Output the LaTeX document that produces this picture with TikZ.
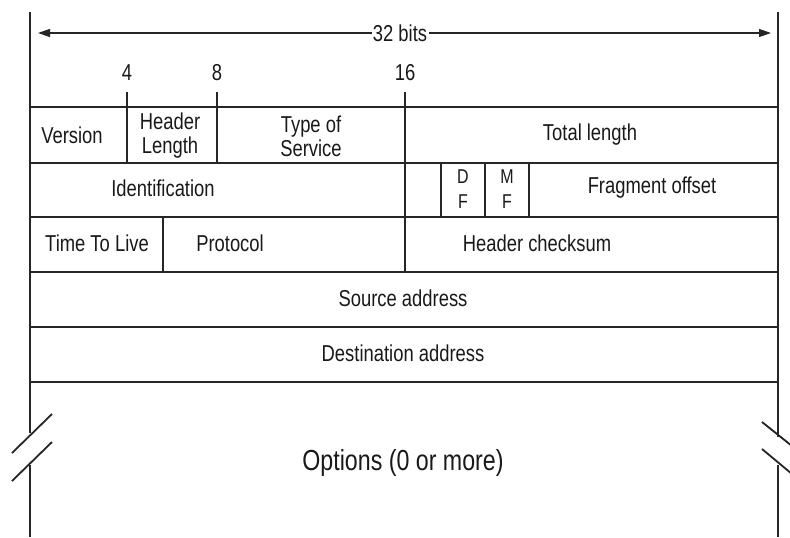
\documentclass[tikz,border=0pt]{standalone}
\usepackage{fontspec}
\setmainfont{Liberation Sans}[FakeStretch=0.8]
\usetikzlibrary{arrows.meta}

\begin{document}
\begin{tikzpicture}[
  x=0.5pt, y=-0.5pt,
  >={Triangle[length=6pt,width=4pt]},
  grid/.style={line width=0.9pt, draw=black!85},
  field/.style={font=\fontsize{11.5}{12}\selectfont, text=black!90,
                inner sep=0.5pt, align=center},
  flag/.style={field, font=\fontsize{10}{12.5}\selectfont},
  bignote/.style={field, font=\fontsize{14.5}{16}\selectfont},
]
  \useasboundingbox (0,0) rectangle (790,537);
  % width of one row
  \node[field] (width) at (400,33) {32 bits};
  \coordinate (wl) at (38,33);
  \coordinate (wr) at (771,33);
  \draw[->, line width=0.6pt, black!85] (width) -- (wl);
  \draw[->, line width=0.6pt, black!85] (width) -- (wr);
  % bit positions
  \node[field] (b4) at (127,73) {4};
  \node[field] (b8) at (217,73) {8};
  \node[field] (b16) at (405,73) {16};
  % outer frame, broken at the options
  \draw[grid] (30,12) -- (30,433) (30,465) -- (30,537);
  \draw[grid] (778,12) -- (778,437) (778,465) -- (778,537);
  \draw[grid] (12,453) -- (52,414) (12,481) -- (52,442);
  \draw[grid] (762,422) -- (792,446) (762,449) -- (792,474);
  % rows
  \foreach \y in {107,163,217,272,327,382}
    \draw[grid] (30,\y) -- (778,\y);
  % columns
  \draw[grid] (127,92) -- (127,163);
  \draw[grid] (217,92) -- (217,163);
  \draw[grid] (405,92) -- (405,272);
  \draw[grid] (441,163) -- (441,217);
  \draw[grid] (485,163) -- (485,217);
  \draw[grid] (529,163) -- (529,217);
  \draw[grid] (163,217) -- (163,272);
  % fields
  \node[field] (ver) at (72,135) {Version};
  \node[field] (hlen) at (170,136) {Header\\Length};
  \node[field] (tos) at (311,136) {Type of\\Service};
  \node[field] (tlen) at (590,135) {Total length};
  \node[field] (ident) at (163,188) {Identification};
  \node[flag] (df) at (463,189) {D\\F};
  \node[flag] (mf) at (507,189) {M\\F};
  \node[field] (frag) at (652,188) {Fragment offset};
  \node[field] (ttl) at (97,243) {Time To Live};
  \node[field] (proto) at (230,243) {Protocol};
  \node[field] (csum) at (537,243) {Header checksum};
  \node[field] (src) at (403,298) {Source address};
  \node[field] (dst) at (403,353) {Destination address};
  \node[bignote] (opts) at (403,463) {Options (0 or more)};
\end{tikzpicture}
\end{document}
